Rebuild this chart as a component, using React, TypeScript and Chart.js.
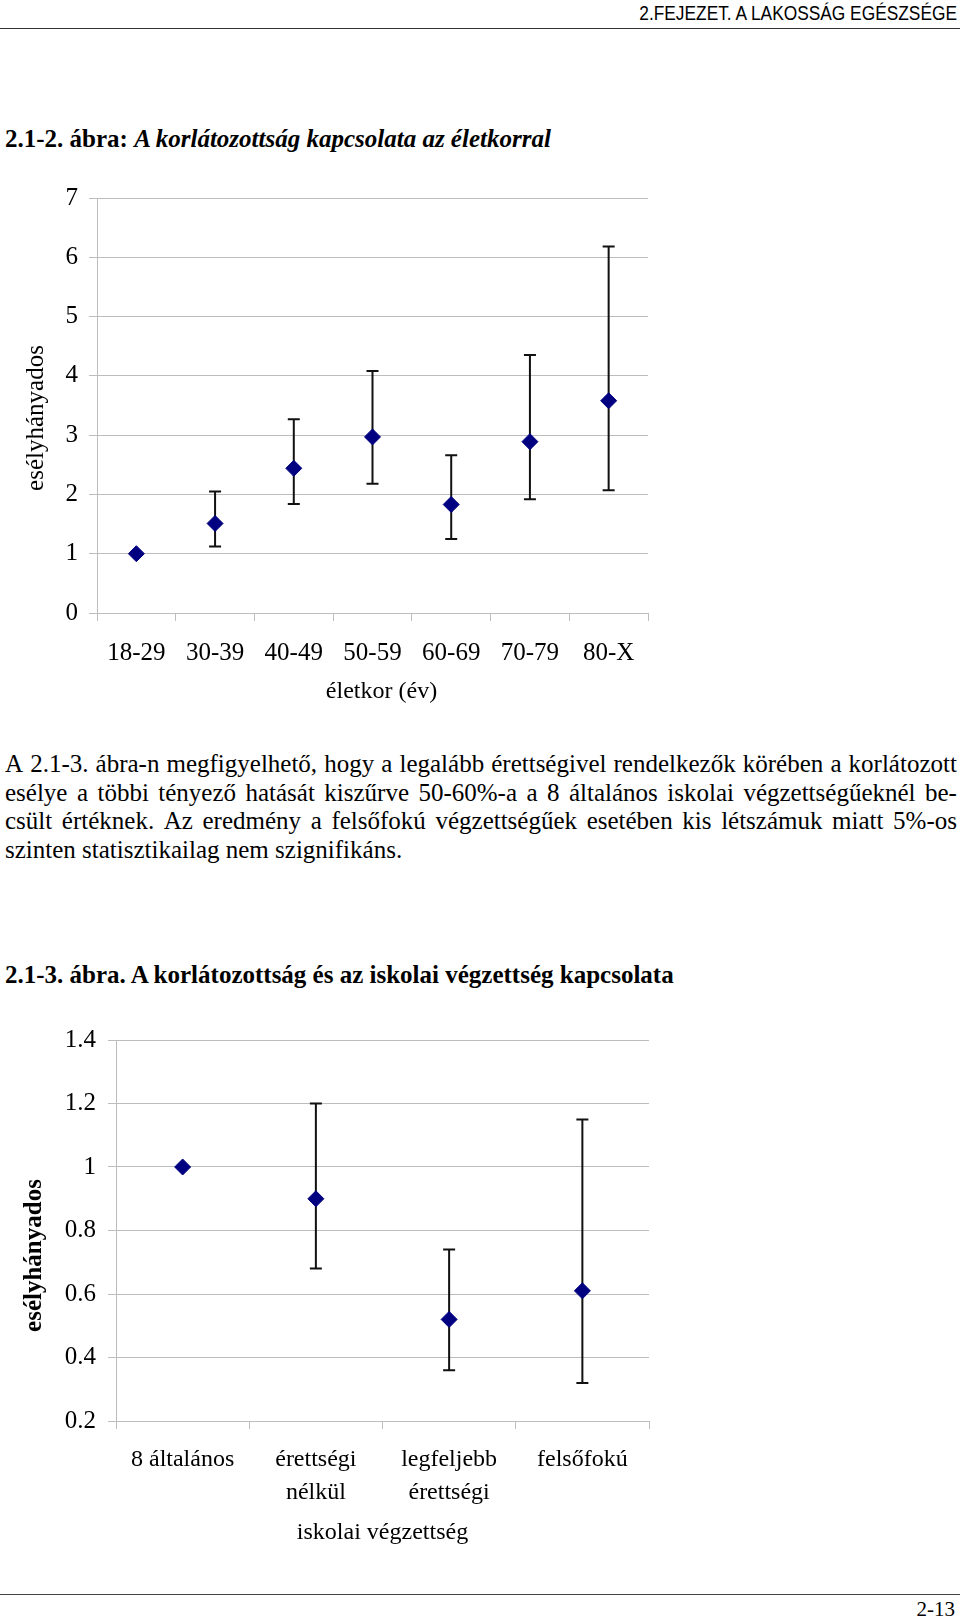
import React, { useEffect, useRef } from 'react';
import { Chart, registerables } from 'chart.js';

Chart.register(...registerables);

// ---------- data: chart 1 (age) ----------
const ageCategories = ['18-29', '30-39', '40-49', '50-59', '60-69', '70-79', '80-X'];
const ageOdds = [1.0, 1.51, 2.44, 2.97, 1.83, 2.89, 3.58];
const ageLower = [null, 1.12, 1.84, 2.18, 1.25, 1.92, 2.07];
const ageUpper = [null, 2.05, 3.27, 4.08, 2.66, 4.35, 6.18];
const ageYMin = 0;
const ageYMax = 7;
const ageYStep = 1;

// ---------- data: chart 2 (education) ----------
const eduCategories = [['8 általános'], ['érettségi', 'nélkül'], ['legfeljebb', 'érettségi'], ['felsőfokú']];
const eduOdds = [1.0, 0.9, 0.52, 0.61];
const eduLower = [null, 0.68, 0.36, 0.32];
const eduUpper = [null, 1.2, 0.74, 1.15];
const eduYMin = 0.2;
const eduYMax = 1.4;
const eduYStep = 0.2;

// ---------- texts ----------
const headerText = '2.FEJEZET. A LAKOSSÁG EGÉSZSÉGE';
const title1Bold = '2.1-2. ábra:';
const title1Italic = 'A korlátozottság kapcsolata az életkorral';
const title2 = '2.1-3. ábra. A korlátozottság és az iskolai végzettség kapcsolata';
const bodyLines = [
  'A 2.1-3. ábra-n megfigyelhető, hogy a legalább érettségivel rendelkezők körében a korlátozott',
  'esélye a többi tényező hatását kiszűrve 50-60%-a a 8 általános iskolai végzettségűeknél be-',
  'csült értéknek. Az eredmény a felsőfokú végzettségűek esetében kis létszámuk miatt 5%-os',
  'szinten statisztikailag nem szignifikáns.',
];
const footerText = '2-13';
const yTitle = 'esélyhányados';
const x1Title = 'életkor (év)';
const x2Title = 'iskolai végzettség';

const SERIF = '"Liberation Serif", "Times New Roman", serif';
const SANS = '"Liberation Sans", Arial, sans-serif';
const MARKER = '#000080';
const GRID = '#bdbdbd';

const errorBarPlugin = {
  id: 'errorBars',
  beforeDatasetsDraw(chart: any, _args: any, opts: any) {
    const { lower, upper } = opts;
    const meta = chart.getDatasetMeta(0);
    const yScale = chart.scales.y;
    const ctx = chart.ctx;
    const cap = opts.capWidth || 12;
    ctx.save();
    ctx.strokeStyle = opts.color || '#000';
    ctx.lineWidth = opts.lineWidth || 2;
    meta.data.forEach((pt: any, i: number) => {
      if (lower[i] == null || upper[i] == null) return;
      const x = pt.x;
      const yl = yScale.getPixelForValue(lower[i]);
      const yu = yScale.getPixelForValue(upper[i]);
      ctx.beginPath();
      ctx.moveTo(x, yl);
      ctx.lineTo(x, yu);
      ctx.moveTo(x - cap / 2, yl);
      ctx.lineTo(x + cap / 2, yl);
      ctx.moveTo(x - cap / 2, yu);
      ctx.lineTo(x + cap / 2, yu);
      ctx.stroke();
    });
    ctx.restore();
  },
};

function fmt(v: any) {
  return String(Number(Number(v).toFixed(2)));
}

function ChartCanvas(props: { config: any; left: number; top: number; width: number; height: number }) {
  const ref = useRef<HTMLCanvasElement | null>(null);
  useEffect(() => {
    if (!ref.current) return;
    const chart = new Chart(ref.current, props.config);
    return () => chart.destroy();
  }, []);
  return (
    <canvas
      ref={ref}
      width={props.width}
      height={props.height}
      style={{ position: 'absolute', left: props.left, top: props.top, width: props.width, height: props.height }}
    />
  );
}

function makeConfig(o: {
  labels: any[];
  values: number[];
  lower: any[];
  upper: any[];
  min: number;
  max: number;
  step: number;
  yAxisWidth: number;
  xAxisHeight: number;
  padding: any;
  xTitle: string;
  xTitlePad: number;
  yTitle: string;
  yTitleBold: boolean;
  yTitlePad: number;
  tickSize: number;
  tickPad: number;
  titleSize: number;
  yTickSize: number;
  yTickPad: number;
}) {
  return {
    type: 'line',
    data: {
      labels: o.labels,
      datasets: [
        {
          data: o.values,
          showLine: false,
          pointStyle: 'rectRot',
          pointRadius: 8,
          pointHoverRadius: 8,
          backgroundColor: MARKER,
          borderColor: MARKER,
          borderWidth: 1,
        },
      ],
    },
    options: {
      animation: false,
      responsive: false,
      maintainAspectRatio: false,
      events: [],
      layout: { padding: o.padding },
      plugins: {
        legend: { display: false },
        tooltip: { enabled: false },
        errorBars: { lower: o.lower, upper: o.upper, capWidth: 12, lineWidth: 2, color: '#111' },
      },
      scales: {
        x: {
          type: 'category',
          offset: true,
          grid: { offset: true, drawOnChartArea: false, drawTicks: true, tickLength: 8, color: GRID, lineWidth: 1 },
          border: { display: true, color: GRID, width: 1 },
          ticks: {
            color: '#000',
            font: { family: SERIF, size: o.tickSize, lineHeight: 33 / o.tickSize },
            padding: o.tickPad,
            maxRotation: 0,
            minRotation: 0,
            autoSkip: false,
          },
          title: {
            display: true,
            text: o.xTitle,
            color: '#000',
            font: { family: SERIF, size: o.titleSize },
            padding: { top: 0, bottom: o.xTitlePad },
          },
          afterFit: (s: any) => {
            s.height = o.xAxisHeight;
          },
        },
        y: {
          min: o.min,
          max: o.max,
          grid: { color: GRID, lineWidth: 1, tickLength: 8 },
          border: { display: true, color: GRID, width: 1 },
          ticks: {
            stepSize: o.step,
            color: '#000',
            font: { family: SERIF, size: o.yTickSize },
            padding: o.yTickPad,
            callback: (v: any) => fmt(v),
          },
          title: {
            display: true,
            text: o.yTitle,
            color: '#000',
            font: { family: SERIF, size: 25, weight: o.yTitleBold ? 'bold' : 'normal' },
            padding: { top: o.yTitlePad, bottom: 0 },
          },
          afterFit: (s: any) => {
            s.width = o.yAxisWidth;
          },
        },
      },
    },
    plugins: [errorBarPlugin],
  };
}

const chart1Config = makeConfig({
  labels: ageCategories,
  values: ageOdds,
  lower: ageLower,
  upper: ageUpper,
  min: ageYMin,
  max: ageYMax,
  step: ageYStep,
  yAxisWidth: 97,
  xAxisHeight: 97,
  padding: { left: 0, right: 12, top: 28, bottom: 0 },
  xTitle: '   ' + x1Title,
  xTitlePad: 4,
  yTitle: yTitle + '    ',
  yTitleBold: false,
  yTitlePad: 21,
  tickSize: 25,
  tickPad: 15.5,
  titleSize: 24,
  yTickSize: 25,
  yTickPad: 11,
});

const chart2Config = makeConfig({
  labels: eduCategories,
  values: eduOdds,
  lower: eduLower,
  upper: eduUpper,
  min: eduYMin,
  max: eduYMax,
  step: eduYStep,
  yAxisWidth: 116,
  xAxisHeight: 139,
  padding: { left: 0, right: 11, top: 50, bottom: 0 },
  xTitle: x2Title,
  xTitlePad: 13,
  yTitle: yTitle + '        ',
  yTitleBold: true,
  yTitlePad: 20,
  tickSize: 24,
  tickPad: 14,
  titleSize: 24,
  yTickSize: 25,
  yTickPad: 12,
});

function JustifiedLine({ text, top }: { text: string; top: number }) {
  const words = text.split(' ');
  return (
    <div
      style={{
        position: 'absolute',
        left: 5,
        top,
        width: 952,
        height: 28.5,
        lineHeight: '28.5px',
        display: 'flex',
        justifyContent: 'space-between',
        whiteSpace: 'nowrap',
      }}
    >
      {words.map((w, i) => (
        <span key={i}>{w}</span>
      ))}
    </div>
  );
}

export default function App() {
  return (
    <div
      style={{
        position: 'absolute',
        left: 0,
        top: 0,
        width: 960,
        height: 1617,
        overflow: 'hidden',
        background: '#fff',
        fontFamily: SERIF,
        color: '#000',
      }}
    >
      {/* header */}
      <div
        style={{
          position: 'absolute',
          right: 3,
          top: 3,
          fontFamily: SANS,
          fontSize: 20.5,
          lineHeight: '20.5px',
          whiteSpace: 'nowrap',
          transform: 'scaleX(0.845)',
          transformOrigin: 'right center',
        }}
      >
        {headerText}
      </div>
      <div style={{ position: 'absolute', left: 0, top: 27.5, width: 960, height: 1.5, background: '#333' }} />

      {/* title 1 */}
      <div
        style={{
          position: 'absolute',
          left: 5,
          top: 125.5,
          fontSize: 25,
          lineHeight: '25px',
          fontWeight: 'bold',
          whiteSpace: 'nowrap',
        }}
      >
        {title1Bold} <i>{title1Italic}</i>
      </div>

      <ChartCanvas config={chart1Config} left={0} top={170} width={660} height={540} />

      {/* body text */}
      <div style={{ position: 'absolute', left: 0, top: 0, fontSize: 25 }}>
        {bodyLines.slice(0, 3).map((l, i) => (
          <JustifiedLine key={i} text={l} top={750 + i * 28.5} />
        ))}
        <div
          style={{
            position: 'absolute',
            left: 5,
            top: 750 + 3 * 28.5,
            lineHeight: '28.5px',
            whiteSpace: 'nowrap',
          }}
        >
          {bodyLines[3]}
        </div>
      </div>

      {/* title 2 */}
      <div
        style={{
          position: 'absolute',
          left: 5,
          top: 961.5,
          fontSize: 25,
          lineHeight: '25px',
          fontWeight: 'bold',
          whiteSpace: 'nowrap',
        }}
      >
        {title2}
      </div>

      <ChartCanvas config={chart2Config} left={0} top={990} width={660} height={570} />

      {/* footer */}
      <div style={{ position: 'absolute', left: 0, top: 1593.5, width: 960, height: 1.5, background: '#444' }} />
      <div
        style={{
          position: 'absolute',
          right: 5,
          top: 1599,
          fontSize: 21,
          lineHeight: '21px',
          whiteSpace: 'nowrap',
        }}
      >
        {footerText}
      </div>
    </div>
  );
}
